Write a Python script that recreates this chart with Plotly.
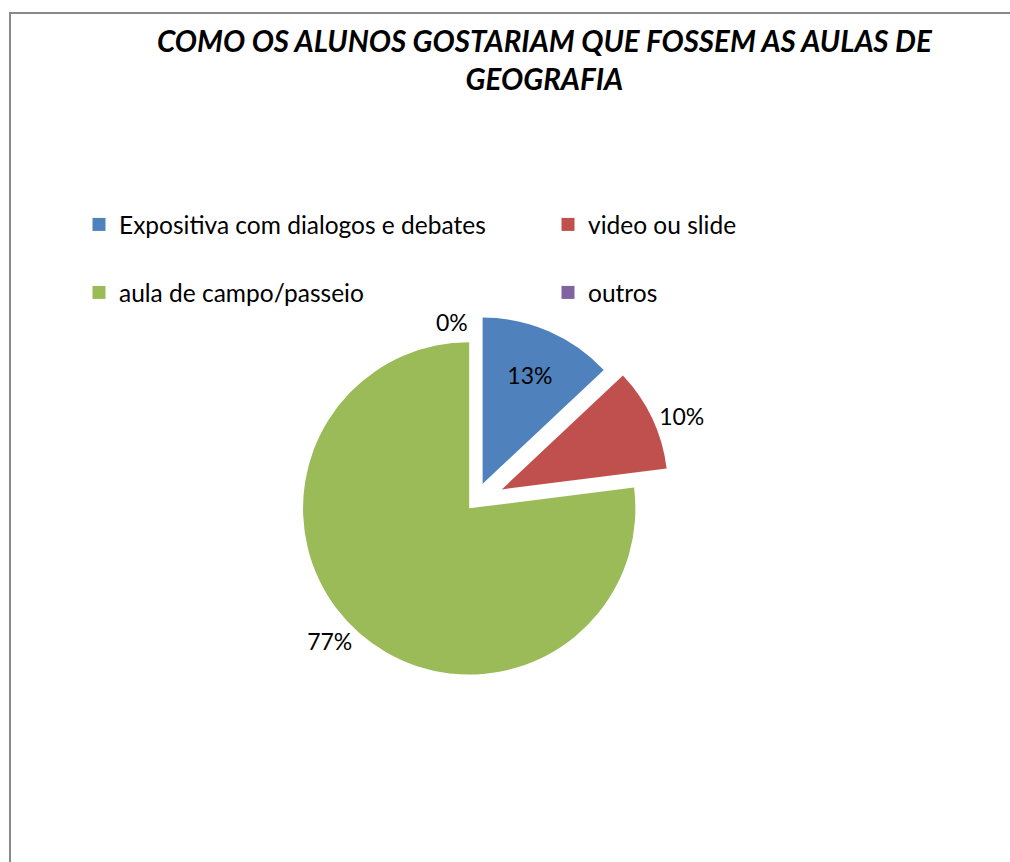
import plotly.graph_objects as go

categories = ["Expositiva com dialogos e debates", "video ou slide", "aula de campo/passeio", "outros"]
values = [13, 10, 77, 0]
colors = ["#4F81BD", "#C0504D", "#9BBB59", "#8064A2"]
text_positions = ["inside", "outside", "outside", "outside"]
pulls = [0.12, 0.18, 0.05, 0.0]
legend_rows = ["legend", "legend", "legend2", "legend2"]

W, H = 1010, 862
FONT = "Lato"

fig = go.Figure()
fig.add_trace(go.Pie(
    labels=categories,
    values=values,
    sort=False,
    direction="clockwise",
    rotation=0,
    pull=pulls,
    marker=dict(colors=colors, line=dict(width=0)),
    texttemplate="%{percent:.0%}",
    textposition=text_positions,
    textfont=dict(family=FONT, size=23, color="#000000"),
    insidetextorientation="horizontal",
    domain=dict(x=[0.20, 0.74], y=[0.19, 0.645]),
    showlegend=False,
    hoverinfo="label+percent",
))

# legend entries (one per category), arranged in two rows like the original
for name, col, lg in zip(categories, colors, legend_rows):
    fig.add_trace(go.Scatter(
        x=[None], y=[None], mode="markers", name=name,
        marker=dict(symbol="square", size=13, color=col),
        legend=lg, showlegend=True, hoverinfo="skip",
    ))

legend_common = dict(
    orientation="h",
    xanchor="left", yanchor="top",
    entrywidth=424, entrywidthmode="pixels",
    font=dict(family=FONT, size=24.5, color="#000000"),
    itemwidth=30, bgcolor="rgba(0,0,0,0)",
    traceorder="normal", itemclick=False, itemdoubleclick=False,
)

fig.update_layout(
    width=W, height=H,
    margin=dict(l=0, r=0, t=0, b=0, autoexpand=False),
    paper_bgcolor="white",
    plot_bgcolor="white",
    showlegend=True,
    xaxis=dict(visible=False, domain=[0, 0.01]),
    yaxis=dict(visible=False, domain=[0, 0.01]),
    legend=dict(x=79 / W, y=1 - 202 / H, **legend_common),
    legend2=dict(x=79 / W, y=1 - 270 / H, **legend_common),
    annotations=[
        dict(text="<b><i>COMO OS ALUNOS GOSTARIAM QUE FOSSEM AS AULAS DE<br>GEOGRAFIA</i></b>",
             x=545 / W, y=1 - 21 / H, xref="paper", yref="paper",
             xanchor="center", yanchor="top", showarrow=False,
             font=dict(family=FONT, size=29.5, color="#000000"), align="center"),
    ],
    shapes=[
        dict(type="rect", xref="paper", yref="paper",
             x0=10 / W, x1=1.05, y0=-0.05, y1=1 - 13 / H,
             line=dict(color="#8a8a8a", width=2), fillcolor="rgba(0,0,0,0)", layer="below"),
    ],
)

fig.write_html("out.html", config={"displayModeBar": False},
               post_script="document.body.style.margin='0';")
